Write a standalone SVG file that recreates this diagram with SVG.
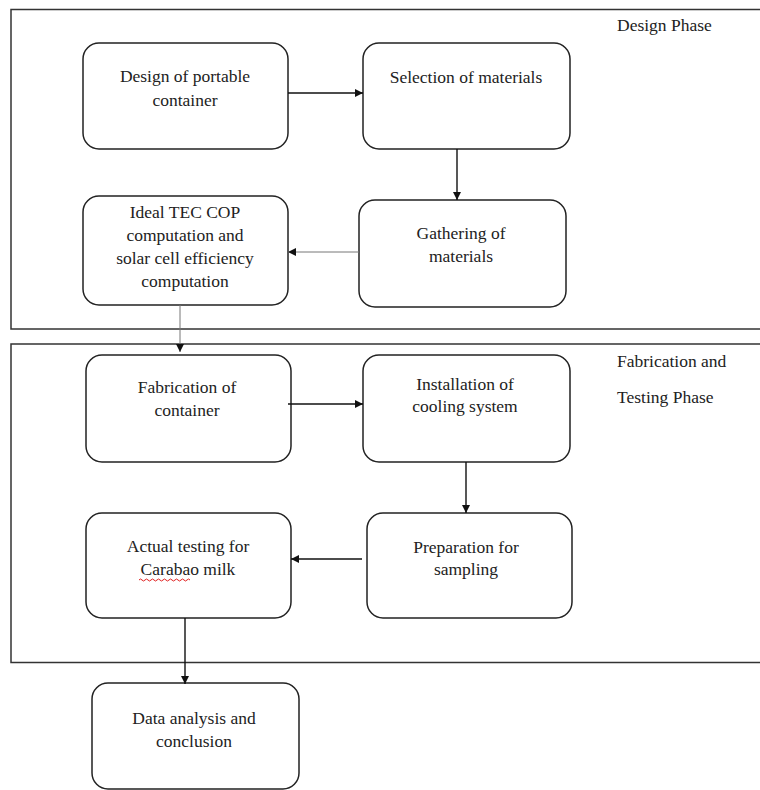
<svg xmlns="http://www.w3.org/2000/svg" width="760" height="790" viewBox="0 0 760 790">
<defs>
<style>
.frame{fill:none;stroke:#333;stroke-width:1.5}
.box{fill:#fff;stroke:#222;stroke-width:1.5}
.t{font-family:"Liberation Serif","Times New Roman",serif;font-size:17.5px;fill:#222;text-anchor:middle}
.lbl{font-family:"Liberation Serif","Times New Roman",serif;font-size:17.5px;fill:#222}
.c{fill:none;stroke:#111;stroke-width:1.4}
.cg{fill:none;stroke:#777;stroke-width:1}
</style>
<marker id="ah" viewBox="0 0 10 10" refX="10" refY="5" markerWidth="8" markerHeight="8" markerUnits="userSpaceOnUse" orient="auto">
<path d="M0,0 L10,5 L0,10 Z" fill="#111"/>
</marker>
</defs>
<rect width="760" height="790" fill="#fff"/>
<g id="design-phase">
<rect class="frame" x="11" y="9.5" width="760" height="319.5"/>
<text class="lbl" x="617" y="31">Design Phase</text>
</g>
<g id="fab-phase">
<rect class="frame" x="11" y="344" width="760" height="318.5"/>
<text class="lbl" x="617" y="367">Fabrication and</text>
<text class="lbl" x="617" y="403">Testing Phase</text>
</g>
<g id="design-container">
<rect class="box" x="83" y="43" width="205" height="106" rx="16"/>
<text class="t" x="185" y="82">Design of portable</text>
<text class="t" x="185" y="106">container</text>
</g>
<g id="selection">
<rect class="box" x="363" y="43" width="207" height="106" rx="16"/>
<text class="t" x="466" y="83">Selection of materials</text>
</g>
<g id="gathering">
<rect class="box" x="359" y="200" width="207" height="107" rx="16"/>
<text class="t" x="461" y="239">Gathering of</text>
<text class="t" x="461" y="262">materials</text>
</g>
<g id="ideal-tec">
<rect class="box" x="83" y="196" width="205" height="109" rx="16"/>
<text class="t" x="185" y="218">Ideal TEC COP</text>
<text class="t" x="185" y="241">computation and</text>
<text class="t" x="185" y="264">solar cell efficiency</text>
<text class="t" x="185" y="287">computation</text>
</g>
<g id="fabrication">
<rect class="box" x="86" y="355" width="205" height="107" rx="16"/>
<text class="t" x="187" y="393">Fabrication of</text>
<text class="t" x="187" y="416">container</text>
</g>
<g id="installation">
<rect class="box" x="363" y="355" width="207" height="107" rx="16"/>
<text class="t" x="465" y="390">Installation of</text>
<text class="t" x="465" y="412">cooling system</text>
</g>
<g id="preparation">
<rect class="box" x="367" y="513" width="205" height="105" rx="16"/>
<text class="t" x="466" y="553">Preparation for</text>
<text class="t" x="466" y="575">sampling</text>
</g>
<g id="actual-testing">
<rect class="box" x="86" y="513" width="205" height="105" rx="16"/>
<text class="t" x="188" y="552">Actual testing for</text>
<text class="t" x="188" y="575">Carabao milk</text>
<path d="M139,580 q1.5,-2 3,0 t3,0 t3,0 t3,0 t3,0 t3,0 t3,0 t3,0 t3,0 t3,0 t3,0 t3,0 t3,0 t3,0 t3,0 t3,0 t3,0" fill="none" stroke="#e02020" stroke-width="1"/>
</g>
<g id="data-analysis">
<rect class="box" x="92" y="683" width="207" height="106" rx="16"/>
<text class="t" x="194" y="724">Data analysis and</text>
<text class="t" x="194" y="747">conclusion</text>
</g>
<g id="connectors">
<line class="c" x1="288" y1="93" x2="363" y2="93" marker-end="url(#ah)"/>
<line class="c" x1="457" y1="149" x2="457" y2="200" marker-end="url(#ah)"/>
<line class="cg" x1="359" y1="252" x2="288" y2="252" marker-end="url(#ah)"/>
<line class="cg" x1="180" y1="305" x2="180" y2="352" marker-end="url(#ah)"/>
<line class="c" x1="288" y1="404" x2="363" y2="404" marker-end="url(#ah)"/>
<line class="c" x1="466" y1="462" x2="466" y2="513" marker-end="url(#ah)"/>
<line class="c" x1="362" y1="559" x2="291" y2="559" marker-end="url(#ah)"/>
<line class="c" x1="185" y1="618" x2="185" y2="684" marker-end="url(#ah)"/>
</g>
</svg>
